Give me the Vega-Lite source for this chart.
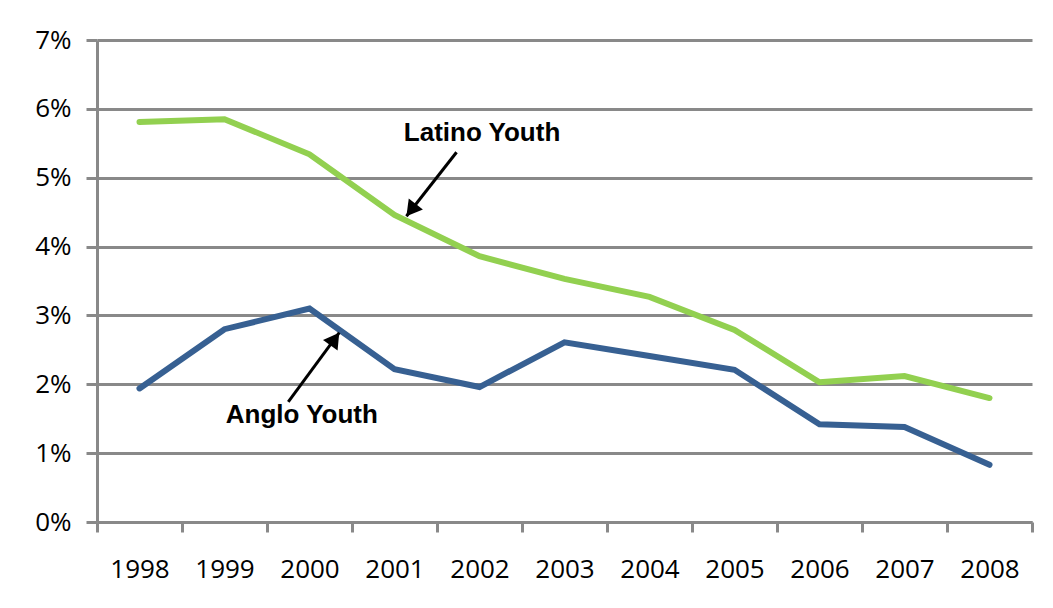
{
  "$schema": "https://vega.github.io/schema/vega-lite/v6.json",
  "width": 935,
  "height": 482,
  "autosize": "none",
  "padding": {"left": 97, "top": 40, "right": 21, "bottom": 86},
  "background": "white",
  "config": {
    "view": {"stroke": null},
    "axis": {
      "domainColor": "#898989",
      "domainWidth": 3,
      "tickColor": "#898989",
      "tickWidth": 3,
      "gridColor": "#898989",
      "gridWidth": 3,
      "gridOpacity": 1,
      "labelColor": "#000000",
      "labelFont": "Open Sans",
      "labelFontSize": 26,
      "labelFontWeight": "normal",
      "title": null
    }
  },
  "datasets": {
    "rates": [
      {"year": 1998, "group": "Latino Youth", "rate": 5.81},
      {"year": 1999, "group": "Latino Youth", "rate": 5.85},
      {"year": 2000, "group": "Latino Youth", "rate": 5.34},
      {"year": 2001, "group": "Latino Youth", "rate": 4.46},
      {"year": 2002, "group": "Latino Youth", "rate": 3.86},
      {"year": 2003, "group": "Latino Youth", "rate": 3.53},
      {"year": 2004, "group": "Latino Youth", "rate": 3.27},
      {"year": 2005, "group": "Latino Youth", "rate": 2.79},
      {"year": 2006, "group": "Latino Youth", "rate": 2.03},
      {"year": 2007, "group": "Latino Youth", "rate": 2.12},
      {"year": 2008, "group": "Latino Youth", "rate": 1.80},
      {"year": 1998, "group": "Anglo Youth", "rate": 1.94},
      {"year": 1999, "group": "Anglo Youth", "rate": 2.80},
      {"year": 2000, "group": "Anglo Youth", "rate": 3.10},
      {"year": 2001, "group": "Anglo Youth", "rate": 2.22},
      {"year": 2002, "group": "Anglo Youth", "rate": 1.96},
      {"year": 2003, "group": "Anglo Youth", "rate": 2.61},
      {"year": 2004, "group": "Anglo Youth", "rate": 2.41},
      {"year": 2005, "group": "Anglo Youth", "rate": 2.21},
      {"year": 2006, "group": "Anglo Youth", "rate": 1.42},
      {"year": 2007, "group": "Anglo Youth", "rate": 1.38},
      {"year": 2008, "group": "Anglo Youth", "rate": 0.83}
    ],
    "notes": [
      {"label": "Latino Youth", "tx": 2002.03, "ty": 5.645, "ax": 2001.73, "ay": 5.37, "hx": 2001.14, "hy": 4.44},
      {"label": "Anglo Youth", "tx": 1999.91, "ty": 1.55, "ax": 1999.75, "ay": 1.745, "hx": 2000.35, "hy": 2.75}
    ]
  },
  "layer": [
    {
      "data": {"name": "rates"},
      "mark": {"type": "line", "strokeWidth": 6, "strokeCap": "round", "strokeJoin": "miter"},
      "encoding": {
        "x": {
          "field": "year",
          "type": "quantitative",
          "scale": {"domain": [1997.5, 2008.5], "nice": false, "zero": false},
          "axis": {
            "values": [1997.5, 1998.5, 1999.5, 2000.5, 2001.5, 2002.5, 2003.5, 2004.5, 2005.5, 2006.5, 2007.5, 2008.5],
            "labelExpr": "datum.value < 2008 ? format(datum.value + 0.5, 'd') : ''",
            "labelOffset": 42.5,
            "labelFlush": false,
            "labelOverlap": false,
            "labelBound": false,
            "tickSize": 10,
            "labelPadding": 24,
            "grid": false
          }
        },
        "y": {
          "field": "rate",
          "type": "quantitative",
          "scale": {"domain": [0, 7], "nice": false},
          "axis": {
            "values": [0, 1, 2, 3, 4, 5, 6, 7],
            "labelExpr": "datum.value + '%'",
            "tickSize": 11,
            "labelPadding": 15,
            "grid": true
          }
        },
        "color": {
          "field": "group",
          "type": "nominal",
          "scale": {"domain": ["Latino Youth", "Anglo Youth"], "range": ["#92D050", "#376092"]},
          "legend": null
        }
      }
    },
    {
      "data": {"name": "notes"},
      "mark": {"type": "rule", "color": "#000000", "strokeWidth": 3},
      "encoding": {
        "x": {"field": "ax", "type": "quantitative"},
        "y": {"field": "ay", "type": "quantitative"},
        "x2": {"field": "hx"},
        "y2": {"field": "hy"}
      }
    },
    {
      "data": {"name": "notes"},
      "transform": [{"filter": "datum.label === 'Latino Youth'"}],
      "mark": {"type": "point", "shape": "M0,0L0.58,1L-0.58,1Z", "filled": true, "color": "#000000", "opacity": 1, "size": 950, "angle": 217.7},
      "encoding": {
        "x": {"field": "hx", "type": "quantitative"},
        "y": {"field": "hy", "type": "quantitative"}
      }
    },
    {
      "data": {"name": "notes"},
      "transform": [{"filter": "datum.label === 'Anglo Youth'"}],
      "mark": {"type": "point", "shape": "M0,0L0.58,1L-0.58,1Z", "filled": true, "color": "#000000", "opacity": 1, "size": 950, "angle": 35.5},
      "encoding": {
        "x": {"field": "hx", "type": "quantitative"},
        "y": {"field": "hy", "type": "quantitative"}
      }
    },
    {
      "data": {"name": "notes"},
      "mark": {"type": "text", "font": "Liberation Sans", "fontSize": 26, "fontWeight": "bold", "color": "#000000", "align": "center", "baseline": "middle"},
      "encoding": {
        "x": {"field": "tx", "type": "quantitative"},
        "y": {"field": "ty", "type": "quantitative"},
        "text": {"field": "label"}
      }
    }
  ]
}
